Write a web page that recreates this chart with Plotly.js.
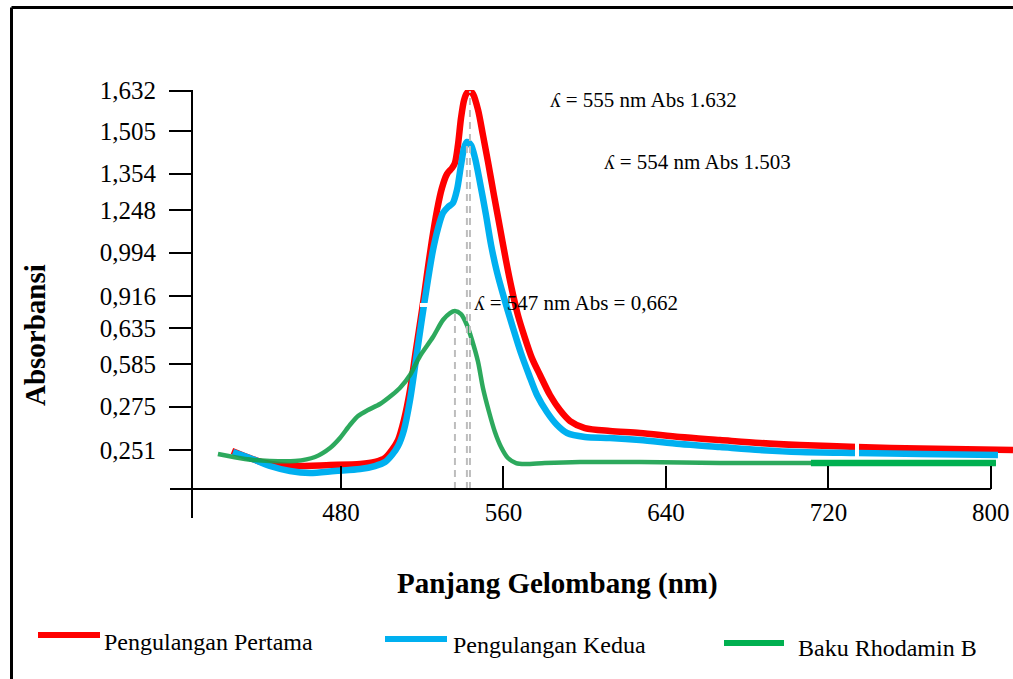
<!DOCTYPE html>
<html>
<head>
<meta charset="utf-8">
<script src="https://cdn.plot.ly/plotly-3.0.1.min.js"></script>
<style>
html,body{margin:0;padding:0;background:#fff;}
#chart{width:1013px;height:679px;}
</style>
</head>
<body>
<div id="chart"></div>
<script>
// ---- Data (wavelength in nm, absorbance in the chart's display scale) ----
const redNm = [426.3,435.2,442.6,454.9,474.6,489.4,496.7,501.7,505.1,508.1,511.0,514.0,516.9,519.9,522.3,524.8,527.3,529.7,532.2,534.7,536.1,537.6,539.1,540.6,542.0,543.5,545.0,547.5,549.9,552.4,555.3,558.3,561.2,564.2,567.1,570.1,574.0,578.0,582.9,587.8,592.8,600.1,612.4,627.2,646.9,666.6,686.3,706.0,734.1,765.1,810.9];
const redAbs = [0.1557,0.1270,0.1065,0.0942,0.0983,0.1024,0.1106,0.1270,0.1598,0.2008,0.2827,0.4056,0.5695,0.7334,0.8768,1.0203,1.1432,1.2333,1.2907,1.3153,1.3358,1.4095,1.5201,1.5939,1.6226,1.6308,1.6185,1.5529,1.4505,1.3398,1.2046,1.0694,0.9383,0.8154,0.7129,0.6310,0.5368,0.4671,0.3852,0.3237,0.2786,0.2499,0.2376,0.2295,0.2131,0.2008,0.1885,0.1803,0.1721,0.1659,0.1598];

const blueNm = [426.8,437.7,445.0,454.9,464.7,477.0,489.4,496.7,501.7,505.1,508.1,511.0,514.0,516.9,519.9,522.8,525.3,527.8,530.2,532.7,535.1,537.1,539.1,540.6,542.0,544.0,546.0,548.4,551.4,553.9,556.8,560.3,564.7,568.6,572.6,576.5,581.4,586.4,591.3,600.1,612.4,627.2,646.9,666.6,686.3,706.0,734.1,765.1,803.5];
const blueAbs = [0.1516,0.1188,0.0942,0.0738,0.0656,0.0738,0.0819,0.0942,0.1106,0.1393,0.1762,0.2417,0.3647,0.5286,0.7007,0.8564,0.9793,1.0694,1.1309,1.1555,1.1719,1.2251,1.3276,1.3972,1.4218,1.4095,1.3562,1.2579,1.1227,0.9998,0.8891,0.7826,0.6597,0.5572,0.4671,0.3852,0.3155,0.2622,0.2295,0.2131,0.2090,0.2008,0.1844,0.1721,0.1598,0.1516,0.1475,0.1434,0.1393];

const greenNm = [419.4,432.7,445.0,457.4,467.2,474.6,479.5,484.4,488.4,493.3,499.2,505.1,509.0,514.0,518.9,525.3,530.2,533.7,536.1,539.1,542.0,544.5,547.5,549.9,552.9,555.8,558.8,562.2,566.2,570.6,580.4,597.7,627.2,666.6,711.4,755.2,802.5];
const greenAbs = [0.1434,0.1229,0.1147,0.1147,0.1311,0.1680,0.2090,0.2622,0.2991,0.3237,0.3483,0.3852,0.4138,0.4671,0.5450,0.6228,0.6925,0.7211,0.7293,0.7170,0.6720,0.6105,0.5204,0.4138,0.3155,0.2335,0.1721,0.1270,0.1065,0.1024,0.1065,0.1106,0.1106,0.1065,0.1065,0.1065,0.1065];
const greenBoldFromNm = 711.4;

const seriesNames = ['Pengulangan Pertama','Pengulangan Kedua','Baku Rhodamin B'];
const seriesColors = ['#ff0000','#00b0f0','#00b050'];

const xTickVals = [480,560,640,720,800];
const xTickText = ['480','560','640','720','800'];
const yTickVals = [0.1598,0.3372,0.5122,0.6585,0.7908,0.9682,1.1432,1.2919,1.4669,1.632];
const yTickText = ['0,251','0,275','0,585','0,635','0,916','0,994','1,248','1,354','1,505','1,632'];

const peakLabels = ['ʎ = 555 nm Abs 1.632','ʎ = 554 nm Abs 1.503','ʎ = 547 nm Abs = 0,662'];
const xTitle = 'Panjang Gelombang (nm)';
const yTitle = 'Absorbansi';

// ---- Layout helpers ----
const FONT = 'Liberation Serif, "Times New Roman", Times, serif';
const W = 1013, H = 679, ML = 170, MR = 0, MT = 90, MB = 161;
const PW = W - ML - MR, PH = H - MT - MB;
const px = v => (v - ML) / PW;          // pixel -> paper x
const py = v => (H - MB - v) / PH;      // pixel -> paper y
const xRange = [395.8, 810.9];
const yRange = [-0.1188, 1.6349];

function peakOf(xs, ys){
  let i = 0; ys.forEach((v,k)=>{ if(v>ys[i]) i=k; });
  return [xs[i], ys[i]];
}
const peaks = [peakOf(redNm,redAbs), peakOf(blueNm,blueAbs), peakOf(greenNm,greenAbs)];

const gNmBold = greenNm.filter(v => v >= greenBoldFromNm);
const gAbsBold = greenAbs.filter((v,i) => greenNm[i] >= greenBoldFromNm);

const traces = [
  {x: redNm, y: redAbs, name: seriesNames[0], type:'scatter', mode:'lines',
   line:{color:seriesColors[0], width:6.5, shape:'spline', smoothing:0.8}},
  {x: blueNm, y: blueAbs, name: seriesNames[1], type:'scatter', mode:'lines',
   line:{color:seriesColors[1], width:6.5, shape:'spline', smoothing:0.8}},
  {x: greenNm, y: greenAbs, name: seriesNames[2], type:'scatter', mode:'lines',
   line:{color:'rgba(22,160,75,0.9)', width:4.5, shape:'spline', smoothing:0.8}},
  {x: gNmBold, y: gAbsBold, name: seriesNames[2], type:'scatter', mode:'lines', showlegend:false,
   line:{color:seriesColors[2], width:6.5}}
];

const shapes = [];
// peak dashed guides
peaks.forEach(p => shapes.push({type:'line', xref:'x', yref:'y', x0:p[0], x1:p[0], y0:0, y1:p[1],
  line:{color:'#bdbdbd', width:2, dash:'7px,5px'}, layer:'above'}));
// x axis line (ends at last tick)
shapes.push({type:'line', xref:'x', yref:'y', x0:xRange[0], x1:xTickVals[xTickVals.length-1], y0:0, y1:0,
  line:{color:'#000', width:2}});
// figure frame (left and top)
shapes.push({type:'line', xref:'paper', yref:'paper', x0:px(11.5), x1:px(11.5), y0:py(7.5), y1:py(H), line:{color:'#000', width:3}});
shapes.push({type:'line', xref:'paper', yref:'paper', x0:px(11.5), x1:px(W), y0:py(7.5), y1:py(7.5), line:{color:'#000', width:3}});
// small white breaks seen in the original drawing
shapes.push({type:'rect', xref:'paper', yref:'paper', x0:px(420), x1:px(429), y0:py(307), y1:py(303), fillcolor:'#fff', line:{width:0}, layer:'above'});
shapes.push({type:'rect', xref:'paper', yref:'paper', x0:px(855), x1:px(859), y0:py(457), y1:py(441), fillcolor:'#fff', line:{width:0}, layer:'above'});
// manual legend swatches
const legPos = [[38,100,635],[385,447,639],[724,784,643]];
legPos.forEach((l,i) => shapes.push({type:'line', xref:'paper', yref:'paper', x0:px(l[0]), x1:px(l[1]), y0:py(l[2]), y1:py(l[2]),
  line:{color:seriesColors[i], width:6}}));

const annotations = [
  {text: peakLabels[0], xref:'paper', yref:'paper', x:px(548), y:py(100), xanchor:'left', yanchor:'middle', showarrow:false, font:{family:FONT, size:21, color:'#000'}},
  {text: peakLabels[1], xref:'paper', yref:'paper', x:px(602), y:py(162), xanchor:'left', yanchor:'middle', showarrow:false, font:{family:FONT, size:21, color:'#000'}},
  {text: peakLabels[2], xref:'paper', yref:'paper', x:px(472), y:py(303), xanchor:'left', yanchor:'middle', showarrow:false, font:{family:FONT, size:21, color:'#000'}},
  {text: '<b>'+xTitle+'</b>', xref:'paper', yref:'paper', x:px(557), y:py(583), xanchor:'center', yanchor:'middle', showarrow:false, font:{family:FONT, size:29, color:'#000'}},
  {text: '<b>'+yTitle+'</b>', xref:'paper', yref:'paper', x:px(35), y:py(335), xanchor:'center', yanchor:'middle', textangle:-90, showarrow:false, font:{family:FONT, size:29, color:'#000'}},
  {text: seriesNames[0], xref:'paper', yref:'paper', x:px(102), y:py(642), xanchor:'left', yanchor:'middle', showarrow:false, font:{family:FONT, size:24, color:'#000'}},
  {text: seriesNames[1], xref:'paper', yref:'paper', x:px(451), y:py(645), xanchor:'left', yanchor:'middle', showarrow:false, font:{family:FONT, size:24, color:'#000'}},
  {text: seriesNames[2], xref:'paper', yref:'paper', x:px(796), y:py(648), xanchor:'left', yanchor:'middle', showarrow:false, font:{family:FONT, size:24, color:'#000'}}
];

const layout = {
  width: W, height: H,
  margin: {l:ML, r:MR, t:MT, b:MB, pad:0},
  paper_bgcolor:'#fff', plot_bgcolor:'rgba(0,0,0,0)',
  showlegend:false,
  font:{family:FONT, color:'#000'},
  xaxis:{range:xRange, anchor:'free', position:py(489), showline:false, showgrid:false, zeroline:false,
    tickmode:'array', tickvals:xTickVals, ticktext:xTickText, ticks:'inside', ticklen:23, tickwidth:2, tickcolor:'#000',
    tickfont:{family:FONT, size:25, color:'#000'}, ticklabelstandoff:6, title:{text:''}},
  yaxis:{range:yRange, anchor:'free', position:px(192), showline:true, linecolor:'#000', linewidth:2, showgrid:false, zeroline:false,
    tickmode:'array', tickvals:yTickVals, ticktext:yTickText, ticks:'outside', ticklen:22, tickwidth:2, tickcolor:'#000',
    tickfont:{family:FONT, size:25, color:'#000'}, ticklabelstandoff:8, title:{text:''}},
  shapes: shapes,
  annotations: annotations
};

Plotly.newPlot('chart', traces, layout, {displayModeBar:false, staticPlot:true});
</script>
</body>
</html>
